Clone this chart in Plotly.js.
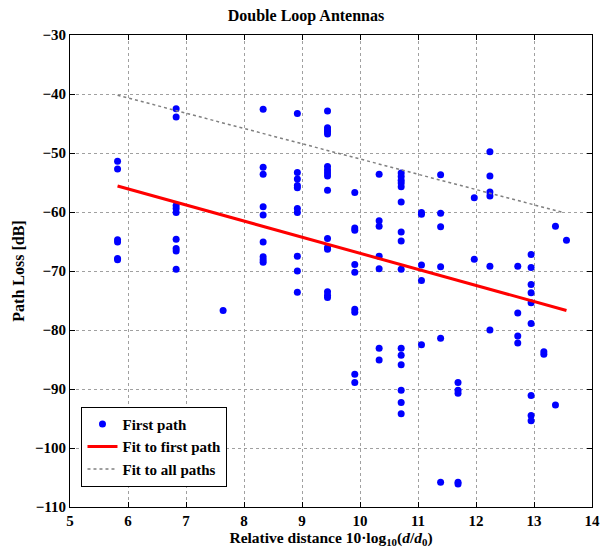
<!DOCTYPE html>
<html>
<head>
<meta charset="utf-8">
<script src="https://cdn.plot.ly/plotly-3.0.1.min.js"></script>
<style>html,body{margin:0;padding:0;background:#fff;}#chart{width:612px;height:548px;}</style>
</head>
<body>
<div id="chart"></div>
<script>
// First-path measurements: relative distance (x) and path loss in dB (y)
const firstPathX = [
  5.82,5.82,5.82,5.82,5.82,5.82,
  6.83,6.83,6.83,6.83,6.83,6.83,6.83,6.83,6.83,
  7.64,
  8.33,8.33,8.33,8.33,8.33,8.33,8.33,8.33,8.33,
  8.92,8.92,8.92,8.92,8.92,8.92,8.92,8.92,8.92,8.92,
  9.44,9.44,9.44,9.44,9.44,9.44,9.44,9.44,9.44,9.44,9.44,9.44,9.44,9.44,9.44,9.44,
  9.91,9.91,9.91,9.91,9.91,9.91,9.91,9.91,9.91,
  10.33,10.33,10.33,10.33,10.33,10.33,10.33,
  10.71,10.71,10.71,10.71,10.71,10.71,10.71,10.71,10.71,10.71,10.71,10.71,10.71,10.71,10.71,
  11.06,11.06,11.06,11.06,11.06,
  11.39,11.39,11.39,11.39,11.39,11.39,
  11.69,11.69,11.69,11.69,11.69,
  11.97,11.97,
  12.24,12.24,12.24,12.24,12.24,12.24,
  12.72,12.72,12.72,12.72,
  12.95,12.95,12.95,12.95,12.95,12.95,12.95,12.95,12.95,
  13.17,13.17,
  13.37,13.37,
  13.56
];
const firstPathY = [
  -51.4,-52.7,-64.7,-65.1,-67.9,-68.1,
  -42.5,-43.9,-58.9,-59.4,-60.1,-64.6,-66.2,-66.6,-69.7,
  -76.7,
  -42.6,-52.4,-53.6,-59.1,-60.5,-65.1,-67.6,-68.1,-68.5,
  -43.3,-53.3,-54.4,-55.5,-55.9,-59.4,-60.1,-67.5,-70.0,-73.6,
  -42.9,-45.7,-46.1,-46.4,-46.8,-52.3,-52.9,-53.4,-53.9,-56.3,-64.5,-66.0,-66.3,-73.5,-74.1,-74.5,
  -56.7,-62.7,-63.1,-68.9,-70.2,-76.5,-77.0,-87.5,-88.9,
  -53.6,-61.5,-62.4,-67.5,-69.6,-83.1,-85.1,
  -53.4,-54.0,-54.6,-55.1,-55.7,-58.3,-63.4,-64.9,-69.7,-83.1,-84.3,-85.9,-90.2,-92.3,-94.2,
  -60.1,-60.4,-69.0,-71.6,-82.5,
  -53.7,-60.2,-62.5,-69.3,-81.4,-105.8,
  -88.9,-90.2,-90.7,-105.8,-106.1,
  -57.6,-68.0,
  -49.8,-53.9,-56.6,-57.3,-69.2,-80.0,
  -69.2,-77.1,-81.0,-82.2,
  -67.2,-69.4,-72.3,-73.7,-75.4,-78.9,-91.1,-94.5,-95.4,
  -83.7,-84.1,
  -62.4,-92.7,
  -64.8
];
// Fit lines (end points)
const fitFirstX = [5.82, 13.56];
const fitFirstY = [-55.6, -76.7];
const fitAllX = [5.82, 13.51];
const fitAllY = [-40.2, -60.1];

const seriesNames = ["First path", "Fit to first path", "Fit to all paths"];
const xTicks = [5,6,7,8,9,10,11,12,13,14];
const yTicks = [-110,-100,-90,-80,-70,-60,-50,-40,-30];

const FONT = "Liberation Serif, Times New Roman, serif";
const bold = s => "<b>" + s + "</b>";
const fmt = v => (v < 0 ? "\u2212" + Math.abs(v) : String(v));

const traces = [
  {x: firstPathX, y: firstPathY, type: "scatter", mode: "markers", name: bold(seriesNames[0]),
   marker: {color: "#0000ff", size: 7}},
  {x: fitFirstX, y: fitFirstY, type: "scatter", mode: "lines", name: bold(seriesNames[1]),
   line: {color: "#ff0000", width: 3}},
  {x: fitAllX, y: fitAllY, type: "scatter", mode: "lines", name: bold(seriesNames[2]),
   line: {color: "#808080", width: 1.5, dash: "dot"}}
];

const axisCommon = {
  showline: true, linecolor: "#000", linewidth: 1, mirror: "ticks",
  ticks: "inside", ticklen: 5, tickcolor: "#000", tickwidth: 1,
  showgrid: true, gridcolor: "#a0a0a0", griddash: "dot", gridwidth: 1,
  zeroline: false,
  tickfont: {family: FONT, size: 15, color: "#000"}
};

const layout = {
  width: 612, height: 548,
  margin: {l: 70, r: 20, t: 35, b: 41},
  paper_bgcolor: "#fff", plot_bgcolor: "#fff",
  font: {family: FONT, color: "#000"},
  title: {text: bold("Double Loop Antennas"), x: 0.5, xanchor: "center", y: 0.972, yanchor: "middle",
          font: {family: FONT, size: 16, color: "#000"}},
  xaxis: Object.assign({}, axisCommon, {
    range: [5, 14], tickvals: xTicks, ticktext: xTicks.map(v => bold(fmt(v))),
    title: {text: bold("Relative distance 10·log<sub>10</sub>(<i>d</i>/<i>d</i><sub>0</sub>)"), standoff: 2,
            font: {family: FONT, size: 15.5, color: "#000"}}
  }),
  yaxis: Object.assign({}, axisCommon, {
    range: [-110, -30], tickvals: yTicks, ticktext: yTicks.map(v => bold(fmt(v))),
    title: {text: bold("Path Loss [dB]"), standoff: 6,
            font: {family: FONT, size: 16, color: "#000"}}
  }),
  showlegend: true,
  legend: {x: 0.022, y: 0.043, xanchor: "left", yanchor: "bottom",
           bgcolor: "#fff", bordercolor: "#000", borderwidth: 1,
           font: {family: FONT, size: 15, color: "#000"},
           tracegroupgap: 0, itemwidth: 30}
};

Plotly.newPlot("chart", traces, layout, {staticPlot: true, displayModeBar: false});
</script>
</body>
</html>
